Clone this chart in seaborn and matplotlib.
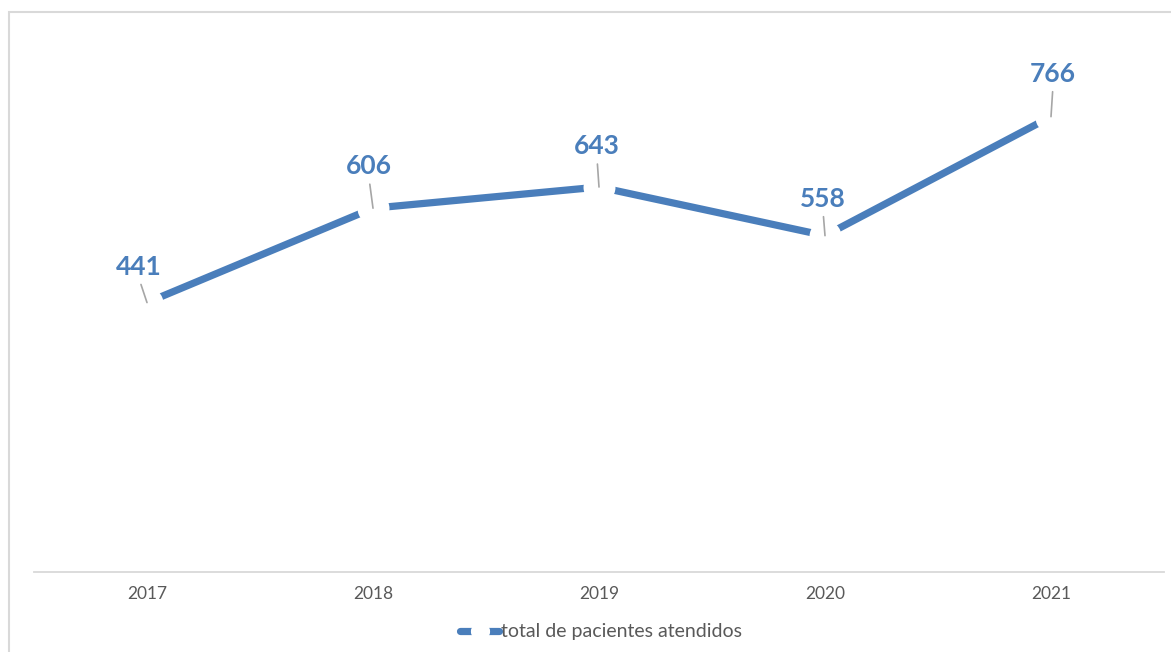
import matplotlib
matplotlib.use("Agg")
import matplotlib.pyplot as plt
import seaborn as sns
import pandas as pd
from matplotlib.patches import Rectangle

# ---- data ----
years = ["2017", "2018", "2019", "2020", "2021"]
pacientes = [441, 606, 643, 558, 766]
series_name = "total de pacientes atendidos"

# label offsets (pixels, relative to point): x, y-up
label_dx = [-8, -4, -2, -2, 2]
label_dy = [36, 42, 41, 37, 43]

BLUE = "#4a7ebb"
GRAY_TXT = "#595959"

sns.set_theme(style="white")
plt.rcParams["font.family"] = ["Lato", "DejaVu Sans"]

W, H = 1171, 652
fig = plt.figure(figsize=(W / 100, H / 100), dpi=100)
ax = fig.add_axes([34 / W, 1 - 572 / H, (1164 - 34) / W, (572 - 40) / H])

df = pd.DataFrame({"year": years, "value": pacientes})
sns.lineplot(data=df, x="year", y="value", ax=ax, color=BLUE, linewidth=5.2,
             marker="o", markersize=23, markerfacecolor="white",
             markeredgecolor="white", markeredgewidth=0,
             label=series_name, legend=False)

ax.set_xlim(-0.5, len(years) - 0.5)
ax.set_ylim(-30, 900)
ax.set_xlabel("")
ax.set_ylabel("")
ax.set_yticks([])
for s in ["top", "left", "right"]:
    ax.spines[s].set_visible(False)
ax.spines["bottom"].set_color("#d9d9d9")
ax.spines["bottom"].set_linewidth(1.3)
ax.tick_params(axis="x", length=0, pad=10, labelsize=12.5, labelcolor=GRAY_TXT)

for i, v in enumerate(pacientes):
    ax.annotate(str(v), xy=(i, v), xytext=(label_dx[i] * 0.72, label_dy[i] * 0.72),
                textcoords="offset points", ha="center", va="center",
                fontsize=19, fontweight="bold", color=BLUE,
                arrowprops=dict(arrowstyle="-", color="#a6a6a6", lw=1.2,
                                relpos=(0.5, 0.0), shrinkA=2, shrinkB=0))

leg = fig.legend(loc="center", bbox_to_anchor=(601 / W, 1 - 632 / H), frameon=False,
                 fontsize=14, handlelength=2.0, handletextpad=0.1, markerscale=0.6)
for t in leg.get_texts():
    t.set_color(GRAY_TXT)

# outer chart frame (top and left visible)
fig.patches.append(Rectangle((9 / W, -0.05), 1.05, 1 - 12 / H + 0.05,
                             transform=fig.transFigure, fill=False,
                             edgecolor="#d9d9d9", linewidth=1.5))

fig.savefig("out.png", dpi=100, facecolor="white")
